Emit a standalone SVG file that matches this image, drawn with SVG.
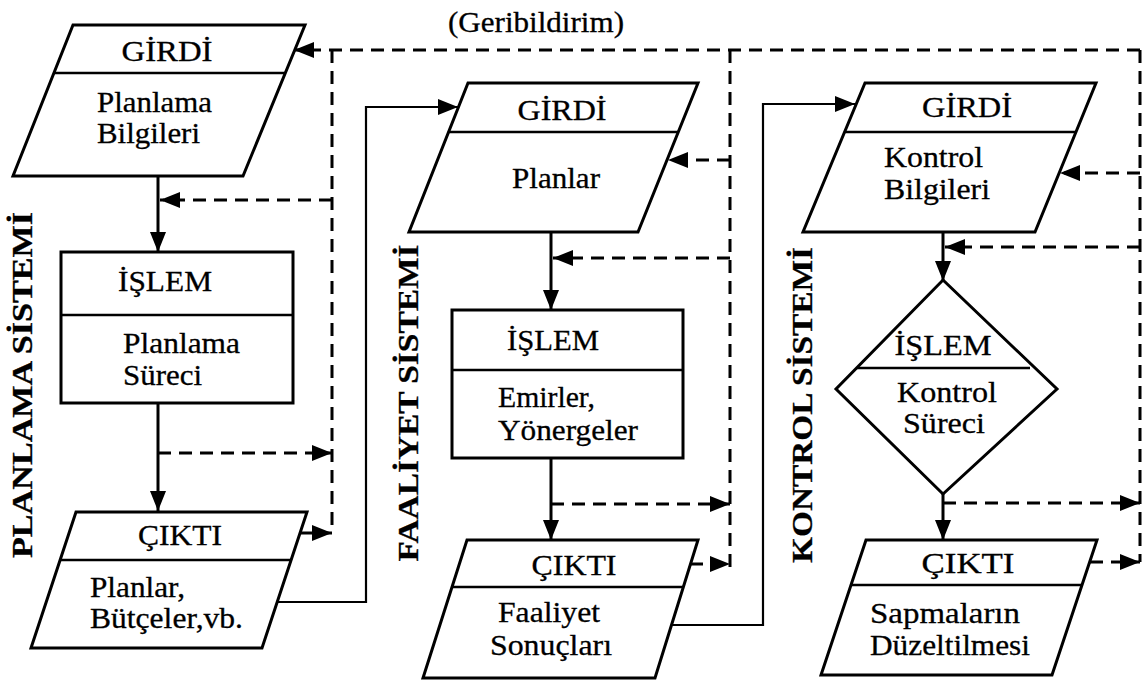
<svg xmlns="http://www.w3.org/2000/svg" width="1147" height="680" viewBox="0 0 1147 680">
  <style>
    .shape { fill: #fff; stroke: #000; stroke-width: 3; stroke-linejoin: miter; }
    .div { stroke: #000; stroke-width: 2.5; }
    .flow { fill: none; stroke: #000; stroke-width: 3; }
    .fb { fill: none; stroke: #000; stroke-width: 3; stroke-dasharray: 13 8; }
    .link { fill: none; stroke: #000; stroke-width: 2.2; }
    text { font-family: "Liberation Serif", "Times New Roman", serif; font-size: 29px; fill: #000; stroke: #000; stroke-width: 0.3; }
    .sys { font-weight: bold; font-size: 29px; text-anchor: middle; }
    .c { text-anchor: middle; }
  </style>
  <defs>
    <marker id="ah" markerUnits="userSpaceOnUse" markerWidth="21" markerHeight="17" refX="20" refY="8" orient="auto">
      <path d="M0,0 L20,8 L0,16 z" fill="#000"/>
    </marker>
  </defs>

  <rect width="1147" height="680" fill="#fff"/>

  <!-- connectors -->
  <g id="connectors">
    <!-- main flow, planning column -->
    <line class="flow" x1="158" y1="176" x2="158" y2="252" marker-end="url(#ah)"/>
    <line class="flow" x1="158" y1="403" x2="158" y2="511" marker-end="url(#ah)"/>
    <!-- main flow, activity column -->
    <line class="flow" x1="551" y1="232" x2="551" y2="310" marker-end="url(#ah)"/>
    <line class="flow" x1="551" y1="458" x2="551" y2="540" marker-end="url(#ah)"/>
    <!-- main flow, control column -->
    <line class="flow" x1="943" y1="232" x2="943" y2="281" marker-end="url(#ah)"/>
    <line class="flow" x1="943" y1="494" x2="943" y2="540" marker-end="url(#ah)"/>

    <!-- output of one system feeds the input of the next -->
    <polyline class="link" points="277,602 366,602 366,107 458,107" marker-end="url(#ah)"/>
    <polyline class="link" points="672,625 763,625 763,104 855,104" marker-end="url(#ah)"/>

    <!-- feedback bus -->
    <line class="fb" x1="1140" y1="50" x2="294" y2="50" marker-end="url(#ah)"/>
    <line class="fb" x1="332" y1="50" x2="332" y2="533"/>
    <line class="fb" x1="730" y1="50" x2="730" y2="568"/>
    <line class="fb" x1="1140" y1="50" x2="1140" y2="562"/>

    <!-- feedback, planning -->
    <line class="fb" x1="332" y1="200" x2="160" y2="200" marker-end="url(#ah)"/>
    <line class="fb" x1="158" y1="453" x2="332" y2="453" marker-end="url(#ah)"/>
    <line class="fb" x1="300" y1="533" x2="332" y2="533" marker-end="url(#ah)"/>

    <!-- feedback, activity -->
    <line class="fb" x1="730" y1="160" x2="668" y2="160" marker-end="url(#ah)"/>
    <line class="fb" x1="730" y1="258" x2="553" y2="258" marker-end="url(#ah)"/>
    <line class="fb" x1="551" y1="504" x2="730" y2="504" marker-end="url(#ah)"/>
    <line class="fb" x1="690" y1="564" x2="730" y2="564" marker-end="url(#ah)"/>

    <!-- feedback, control -->
    <line class="fb" x1="1140" y1="173" x2="1060" y2="173" marker-end="url(#ah)"/>
    <line class="fb" x1="1140" y1="247" x2="945" y2="247" marker-end="url(#ah)"/>
    <line class="fb" x1="943" y1="503" x2="1140" y2="503" marker-end="url(#ah)"/>
    <line class="fb" x1="1090" y1="562" x2="1140" y2="562" marker-end="url(#ah)"/>
  </g>

  <text id="feedback-label" x="536" y="32" class="c" textLength="176" lengthAdjust="spacingAndGlyphs">(Geribildirim)</text>

  <!-- system titles -->
  <text class="sys" transform="translate(32,385) rotate(-90)" textLength="346" lengthAdjust="spacingAndGlyphs">PLANLAMA SİSTEMİ</text>
  <text class="sys" transform="translate(418,403) rotate(-90)" textLength="317" lengthAdjust="spacingAndGlyphs">FAALİYET SİSTEMİ</text>
  <text class="sys" transform="translate(812,405) rotate(-90)" textLength="316" lengthAdjust="spacingAndGlyphs">KONTROL SİSTEMİ</text>

  <!-- planning system -->
  <g id="plan-input">
    <polygon class="shape" points="73,25 305,25 243,176 13,176"/>
    <line class="div" x1="54" y1="73" x2="286" y2="73"/>
    <text x="167" y="61" class="c" textLength="91" lengthAdjust="spacingAndGlyphs">GİRDİ</text>
    <text x="97" y="112" textLength="115" lengthAdjust="spacingAndGlyphs">Planlama</text>
    <text x="97" y="143" textLength="103" lengthAdjust="spacingAndGlyphs">Bilgileri</text>
  </g>
  <g id="plan-process">
    <rect class="shape" x="61" y="252" width="232" height="151"/>
    <line class="div" x1="61" y1="315" x2="293" y2="315"/>
    <text x="165" y="291" class="c" textLength="94" lengthAdjust="spacingAndGlyphs">İŞLEM</text>
    <text x="123" y="353" textLength="117" lengthAdjust="spacingAndGlyphs">Planlama</text>
    <text x="123" y="385" textLength="79" lengthAdjust="spacingAndGlyphs">Süreci</text>
  </g>
  <g id="plan-output">
    <polygon class="shape" points="76,512 307,512 262,648 31,648"/>
    <line class="div" x1="60" y1="560" x2="291" y2="560"/>
    <text x="180" y="545" class="c" textLength="84" lengthAdjust="spacingAndGlyphs">ÇIKTI</text>
    <text x="90" y="597" textLength="95" lengthAdjust="spacingAndGlyphs">Planlar,</text>
    <text x="90" y="628" textLength="153" lengthAdjust="spacingAndGlyphs">Bütçeler,vb.</text>
  </g>

  <!-- activity system -->
  <g id="act-input">
    <polygon class="shape" points="468,83 698,83 638,232 409,232"/>
    <line class="div" x1="449" y1="132" x2="678" y2="132"/>
    <text x="562" y="120" class="c" textLength="89" lengthAdjust="spacingAndGlyphs">GİRDİ</text>
    <text x="556" y="188" class="c" textLength="88" lengthAdjust="spacingAndGlyphs">Planlar</text>
  </g>
  <g id="act-process">
    <rect class="shape" x="452" y="310" width="231" height="148"/>
    <line class="div" x1="452" y1="370" x2="683" y2="370"/>
    <text x="553" y="350" class="c" textLength="92" lengthAdjust="spacingAndGlyphs">İŞLEM</text>
    <text x="498" y="407" textLength="97" lengthAdjust="spacingAndGlyphs">Emirler,</text>
    <text x="498" y="440" textLength="140" lengthAdjust="spacingAndGlyphs">Yönergeler</text>
  </g>
  <g id="act-output">
    <polygon class="shape" points="467,540 698,540 655,678 423,678"/>
    <line class="div" x1="452" y1="587" x2="683" y2="587"/>
    <text x="574" y="575" class="c" textLength="85" lengthAdjust="spacingAndGlyphs">ÇIKTI</text>
    <text x="498" y="622" textLength="102" lengthAdjust="spacingAndGlyphs">Faaliyet</text>
    <text x="490" y="655" textLength="122" lengthAdjust="spacingAndGlyphs">Sonuçları</text>
  </g>

  <!-- control system -->
  <g id="ctl-input">
    <polygon class="shape" points="865,83 1096,83 1035,232 803,232"/>
    <line class="div" x1="845" y1="132" x2="1076" y2="132"/>
    <text x="967" y="117" class="c" textLength="90" lengthAdjust="spacingAndGlyphs">GİRDİ</text>
    <text x="884" y="167" textLength="99" lengthAdjust="spacingAndGlyphs">Kontrol</text>
    <text x="884" y="199" textLength="106" lengthAdjust="spacingAndGlyphs">Bilgileri</text>
  </g>
  <g id="ctl-process">
    <polygon class="shape" points="943,280 1057,389 943,494 836,389"/>
    <line class="div" x1="857" y1="368" x2="1030" y2="368"/>
    <text x="943" y="355" class="c" textLength="97" lengthAdjust="spacingAndGlyphs">İŞLEM</text>
    <text x="897" y="402" textLength="100" lengthAdjust="spacingAndGlyphs">Kontrol</text>
    <text x="903" y="433" textLength="82" lengthAdjust="spacingAndGlyphs">Süreci</text>
  </g>
  <g id="ctl-output">
    <polygon class="shape" points="866,540 1097,540 1052,675 821,675"/>
    <line class="div" x1="851" y1="585" x2="1082" y2="585"/>
    <text x="968" y="573" class="c" textLength="93" lengthAdjust="spacingAndGlyphs">ÇIKTI</text>
    <text x="870" y="623" textLength="150" lengthAdjust="spacingAndGlyphs">Sapmaların</text>
    <text x="870" y="655" textLength="160" lengthAdjust="spacingAndGlyphs">Düzeltilmesi</text>
  </g>
</svg>
